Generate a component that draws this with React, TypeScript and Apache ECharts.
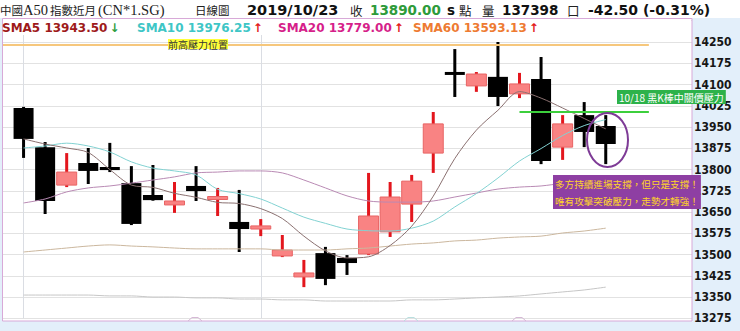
import React, { useEffect, useRef } from 'react';
import * as echarts from 'echarts';

// ---- data ----
const categories = ['', '09/16', '09/17', '09/18', '09/19', '09/20', '09/23', '09/24', '09/25', '09/26', '09/27', '09/30', '10/01', '10/02', '10/03', '10/04', '10/07', '10/08', '10/09', '10/10', '10/11', '10/14', '10/15', '10/16', '10/17', '10/18', '10/21', '10/22', '10/23', 'e1', 'e2', 'e3', 'e4'];

const opens = [14017, 13879, 13745, 13823, 13809, 13752, 13710, 13675, 13742, 13696, 13615, 13590, 13495, 13421, 13505, 13488, 13502, 13580, 13678, 13858, 14144, 14095, 14127, 14067, 14119, 13879, 13992, 13953.5];
const closes = [13908, 13689, 13791, 13795, 13798, 13608, 13692, 13689, 13724, 13703, 13590, 13601, 13516, 13435, 13414, 13470, 13636, 13703, 13759, 13961, 14134, 14137, 14056, 14102, 13830, 13961, 13932.5, 13890];
const lows = [13841, 13643, 13738, 13749, 13791, 13604, 13690, 13647, 13689, 13636, 13509, 13565, 13491, 13385, 13392, 13428, 13498, 13562, 13615, 13788, 14056, 14074, 14024, 14052, 13819, 13834, 13879, 13819];
const highs = [14021, 13897, 13858, 13876, 13894, 13812, 13816, 13756, 13812, 13735, 13728, 13625, 13569, 13481, 13527, 13498, 13788, 13756, 13781, 14003, 14225, 14144, 14250, 14141, 14197, 13992, 14038, 13992];

const sma5 = [13908, 13890, 13876, 13860, 13800, 13745, 13737, 13716, 13702, 13684, 13680, 13662, 13627, 13565, 13513, 13488, 13492, 13532, 13600, 13706, 13839, 13939, 14009, 14075, 14052, 14017, 13980, 13943.5];
const sma10 = [13876, 13883, 13893, 13883, 13862, 13827, 13805, 13795, 13781, 13730, 13715, 13696, 13664, 13632, 13610, 13590, 13584, 13583, 13593, 13618, 13668, 13715, 13770, 13830, 13874, 13920, 13955, 13976.25];
const sma20 = [13682, 13696, 13721, 13735, 13742, 13752, 13763, 13774, 13788, 13791, 13795, 13795, 13788, 13763, 13735, 13707, 13689, 13685, 13685, 13689, 13703, 13717, 13731, 13738, 13742, 13752, 13766, 13779];
const sma60 = [13509, 13516, 13523, 13530, 13534, 13530, 13527, 13523, 13520, 13520, 13520, 13520, 13516, 13516, 13516, 13520, 13523, 13530, 13537, 13541, 13548, 13551, 13558, 13562, 13565, 13576, 13583, 13593.13];
const smaLong = [13357, 13357, 13357, 13357, 13354, 13354, 13350, 13350, 13347, 13347, 13343, 13343, 13340, 13340, 13336, 13336, 13336, 13336, 13340, 13340, 13343, 13347, 13350, 13354, 13361, 13368, 13375, 13385];

const yMin = 13275;
const yMax = 14325;
const yStep = 75;
const prevHighLevel = 14240;
const pressureLevel = 14005;

const header = { name: '中國A50指數近月(CN*1.SG)', kind: '日線圖', date: '2019/10/23', close: '13890.00', volume: '137398', change: '-42.50 (-0.31%)' };

const BODY_UP = '#f98383';
const EDGE_UP = '#e86464';
const WICK_UP = '#e3161d';

const CJK = '"Noto Sans CJK TC", "Noto Sans CJK SC", sans-serif';
const SERIF = '"Liberation Serif", "DejaVu Serif", serif';
const BOLD = '"DejaVu Sans", Verdana, sans-serif';

export default function App() {
  const ref = useRef<HTMLDivElement>(null);

  useEffect(() => {
    document.body.style.margin = '0';
    if (!ref.current) return;
    const chart = echarts.init(ref.current, undefined, { renderer: 'svg' });

    const candleData = opens.map((o, k) => [k + 1, o, closes[k], lows[k], highs[k]]);
    const pad = (arr: number[]) => [null, ...arr];

    const renderCandle = (params: any, api: any) => {
      const i = api.value(0);
      const o = api.value(1);
      const c = api.value(2);
      const l = api.value(3);
      const h = api.value(4);
      const pO = api.coord([i, o]);
      const pC = api.coord([i, c]);
      const pL = api.coord([i, l]);
      const pH = api.coord([i, h]);
      const up = c > o;
      const bw = 20;
      let top = Math.min(pO[1], pC[1]);
      let bh = Math.abs(pO[1] - pC[1]);
      if (bh < 3) {
        top = (pO[1] + pC[1]) / 2 - 1.5;
        bh = 3;
      }
      return {
        type: 'group',
        children: [
          { type: 'rect', shape: { x: pO[0] - 1.5, y: pH[1], width: 3, height: Math.max(pL[1] - pH[1], 1) }, style: { fill: up ? WICK_UP : '#000' } },
          { type: 'rect', shape: { x: pO[0] - bw / 2, y: top, width: bw, height: bh }, style: { fill: up ? BODY_UP : '#000', stroke: up ? EDGE_UP : '#000', lineWidth: up ? 1 : 0 } },
        ],
      };
    };

    const lineSeries = (name: string, data: number[], color: string, z: number, extra: any = {}) => ({
      name,
      type: 'line',
      data: pad(data),
      showSymbol: false,
      smooth: 0.3,
      z,
      silent: true,
      lineStyle: { color, width: 1 },
      ...extra,
    });

    const headerText = (text: string, x: number, size: number, family: string, fill: string, weight: string = 'normal') => ({
      type: 'text',
      x,
      y: 10,
      z: 20,
      style: { text, fontSize: size, fontFamily: family, fontWeight: weight, fill, align: 'left', verticalAlign: 'middle' },
    });

    const legendText = (label: string, value: string, color: string, arrow: string, arrowColor: string, x: number) => ({
      type: 'text',
      x,
      y: 27.5,
      z: 20,
      style: {
        text: `{a|${label} ${value}}{b|${arrow}}`,
        align: 'left',
        verticalAlign: 'middle',
        rich: {
          a: { fontSize: 12, fontFamily: BOLD, fontWeight: 'bold', fill: color },
          b: { fontSize: 12, fontFamily: BOLD, fontWeight: 'bold', fill: arrowColor, padding: [0, 0, 0, 2] },
        },
      },
    });

    const tri = (x: number, color: string) => ({
      type: 'polyline',
      z: 15,
      shape: { points: [[x - 7, 321], [x - 3, 317.5], [x + 3, 317.5], [x + 7, 321]] },
      style: { stroke: color, lineWidth: 1, fill: 'none' },
    });

    const option: any = {
      animation: false,
      backgroundColor: '#e3effa',
      grid: { left: 2, right: 48, top: 20.74, bottom: 12.7, containLabel: false },
      xAxis: {
        type: 'category',
        data: categories,
        boundaryGap: false,
        axisLine: { show: false },
        axisTick: { show: false },
        axisLabel: { show: false },
        splitLine: { show: true, interval: (idx: number) => idx === 1 || idx === 12, lineStyle: { color: '#dadde3', width: 1 } },
      },
      yAxis: {
        type: 'value',
        position: 'right',
        min: yMin,
        max: yMax,
        interval: yStep,
        axisLine: { show: false },
        axisTick: { show: false },
        axisLabel: {
          margin: 2,
          color: '#161616',
          fontWeight: 'bold',
          fontSize: 12,
          fontFamily: '"DejaVu Sans Condensed", "DejaVu Sans", sans-serif',
          formatter: (v: number) => (v > 14250 ? '' : String(v)),
        },
        splitLine: { show: true, lineStyle: { color: '#e2e2e2', width: 1 } },
      },
      series: [
        lineSeries('SMA120', smaLong, '#c6c6c6', 1, {
          markLine: {
            silent: true,
            symbol: ['none', 'none'],
            label: { show: false },
            data: [
              [{ coord: [0, prevHighLevel], lineStyle: { color: '#f6c77c', width: 2, type: 'solid' } }, { coord: [30, prevHighLevel] }],
              [{ coord: [24, pressureLevel], lineStyle: { color: '#3ccf3c', width: 2, type: 'solid' } }, { coord: [30, pressureLevel] }],
            ],
          },
        }),
        {
          name: 'K',
          type: 'custom',
          renderItem: renderCandle,
          data: candleData,
          encode: { x: 0, y: [1, 2, 3, 4] },
          z: 2,
          silent: true,
        },
        lineSeries('SMA60', sma60, '#cbb79e', 3),
        lineSeries('SMA20', sma20, '#b98ab4', 3),
        lineSeries('SMA10', sma10, '#82d2d2', 3),
        lineSeries('SMA5', sma5, '#8a7070', 3),
      ],
      graphic: [
        { type: 'rect', z: -10, shape: { x: 0, y: 0, width: 740, height: 18 }, style: { fill: '#ffffff' } },
        { type: 'rect', z: -10, shape: { x: 2, y: 18, width: 690, height: 303 }, style: { fill: '#ffffff' } },
        { type: 'rect', z: 12, shape: { x: 3, y: 19, width: 688, height: 16 }, style: { fill: '#ffffff' } },
        { type: 'rect', z: 14, shape: { x: 2.5, y: 18.5, width: 689.5, height: 302.5 }, style: { fill: 'none', stroke: '#d8a9d8', lineWidth: 1 } },
        tri(195, '#d6b8d6'),
        tri(411, '#b9dfdf'),
        tri(519, '#d6b8d6'),
        headerText('中國', 0, 11.5, CJK, '#222'),
        headerText('A50', 23, 14.5, SERIF, '#222'),
        headerText('指數近月', 50, 11.5, CJK, '#222'),
        headerText('(CN*1.SG)', 98, 14.5, SERIF, '#222'),
        headerText(header.kind, 195, 11.5, CJK, '#222'),
        headerText(header.date, 247, 14.5, BOLD, '#111', 'bold'),
        headerText('收', 350, 12.5, CJK, '#222'),
        headerText(header.close, 370, 13.5, BOLD, '#2e9b3a', 'bold'),
        headerText('s', 447, 13.5, BOLD, '#111', 'bold'),
        headerText('點', 459, 12.5, CJK, '#222'),
        headerText('量', 482, 12.5, CJK, '#222'),
        headerText(header.volume, 502, 13.5, BOLD, '#111', 'bold'),
        headerText('口', 567, 12.5, CJK, '#222'),
        headerText(header.change, 588, 14, BOLD, '#111', 'bold'),
        legendText('SMA5', '13943.50', '#9e1a1a', '↓', '#2f9e3f', 2),
        legendText('SMA10', '13976.25', '#3ec6c6', '↑', '#e31b1b', 137),
        legendText('SMA20', '13779.00', '#d61f8a', '↑', '#e31b1b', 278),
        legendText('SMA60', '13593.13', '#ee7b32', '↑', '#e31b1b', 413),
        {
          type: 'text',
          x: 168,
          y: 44,
          z: 20,
          style: { text: '前高壓力位置', fontSize: 10, fontFamily: CJK, fill: '#333', backgroundColor: '#ffff3a', padding: [0, 0], align: 'left', verticalAlign: 'middle' },
        },
        {
          type: 'text',
          x: 617,
          y: 97,
          z: 20,
          style: { text: '10/18 黑K棒中關價壓力', fontSize: 10, fontFamily: CJK, fill: '#ffffff', backgroundColor: '#2db24a', padding: [2, 2], align: 'left', verticalAlign: 'middle' },
        },
        {
          type: 'ellipse',
          z: 18,
          shape: { cx: 607.5, cy: 140, rx: 20.5, ry: 27 },
          style: { fill: 'none', stroke: '#7e3b96', lineWidth: 2 },
        },
        {
          type: 'text',
          x: 553,
          y: 175,
          z: 20,
          style: {
            text: '多方持續進場支撐，但只是支撐！\n唯有攻擊突破壓力，走勢才轉強！',
            fontSize: 9.6,
            lineHeight: 17,
            fontFamily: CJK,
            fill: '#ffd42a',
            backgroundColor: '#8e3fa3',
            padding: [0, 2],
            align: 'left',
            verticalAlign: 'top',
          },
        },
      ],
    };

    chart.setOption(option);
    return () => chart.dispose();
  }, []);

  return <div ref={ref} style={{ width: 740, height: 331 }} />;
}
